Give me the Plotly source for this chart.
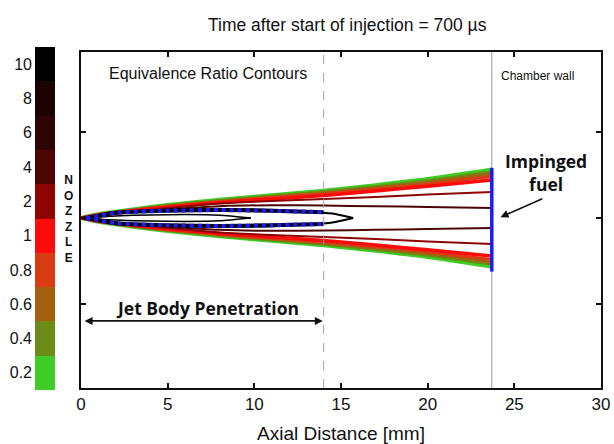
import plotly.graph_objects as go

# ---------------- data ----------------
cb_labels = ["0.2", "0.4", "0.6", "0.8", "1", "2", "4", "6", "8", "10"]
cb_colors = ["#3fcc26", "#6c8c18", "#a4620e", "#d93c12", "#ff0b0b",
             "#8e0404", "#4c0606", "#2e0404", "#1c0202", "#000000"]

x_st = [0, 1, 3, 5, 8, 11, 14, 17, 20, 23.7]
# half-widths [mm] of each equivalence-ratio contour along the spray
hw_02 = [0, 0.22, 0.50, 0.75, 1.05, 1.32, 1.58, 1.90, 2.25, 2.80]
hw_04 = [0, 0.21, 0.48, 0.72, 1.01, 1.27, 1.52, 1.82, 2.16, 2.68]
hw_06 = [0, 0.20, 0.46, 0.69, 0.97, 1.22, 1.45, 1.74, 2.06, 2.54]
hw_08 = [0, 0.19, 0.44, 0.66, 0.93, 1.16, 1.38, 1.65, 1.95, 2.40]
hw_1 = [0, 0.18, 0.42, 0.63, 0.89, 1.10, 1.30, 1.56, 1.84, 2.20]
hw_2 = [0, 0.16, 0.38, 0.58, 0.84, 0.98, 1.10, 1.22, 1.36, 1.50]
hw_4 = [0, 0.14, 0.34, 0.50, 0.68, 0.74, 0.72, 0.68, 0.64, 0.58]

x_tear = [0, 2, 5, 8, 11, 13, 14.5, 15.7]
hw_tear = [0, 0.30, 0.45, 0.50, 0.47, 0.38, 0.26, 0]
x_core = [0, 2, 4, 6, 8, 9.8]
hw_core = [0, 0.12, 0.18, 0.20, 0.16, 0]
x_liq = [0.3, 2, 5, 8, 11, 14]
hw_liq = [0, 0.30, 0.42, 0.46, 0.42, 0.34]

penetration = 14.0
wall_x = 23.7
wall_y = [-3.1, 2.9]

xticks = [0, 5, 10, 15, 20, 25, 30]

# ---------------- figure ----------------
fig = go.Figure()


def contour(xs, hw, color, width, dash="solid"):
    px = list(xs) + [None] + list(xs)
    py = list(hw) + [None] + [-h for h in hw]
    fig.add_trace(go.Scatter(x=px, y=py, mode="lines", line=dict(color=color, width=width, dash=dash,
                                                                 shape="spline", smoothing=0.6),
                             hoverinfo="skip", showlegend=False, xaxis="x", yaxis="y"))


levels = [(hw_02, 0, 4), (hw_04, 1, 3), (hw_06, 2, 3), (hw_08, 3, 3), (hw_1, 4, 3.5),
          (hw_2, 5, 2), (hw_4, 6, 2)]
for hw, ci, w in levels:
    contour(x_st, hw, cb_colors[ci], w)

contour(x_tear, hw_tear, "#000000", 2)
contour(x_core, hw_core, "#000000", 1.5)
contour(x_liq, hw_liq, "#000000", 4)
contour(x_liq, hw_liq, "#1a1aff", 4, dash="dot")

# penetration & chamber wall reference lines
fig.add_trace(go.Scatter(x=[penetration, penetration], y=[-9.83, 9.6], mode="lines",
                         line=dict(color="#9aa3b8", width=1, dash="dash"),
                         hoverinfo="skip", showlegend=False))
fig.add_trace(go.Scatter(x=[wall_x, wall_x], y=[-9.83, 9.6], mode="lines",
                         line=dict(color="#8e94a2", width=1),
                         hoverinfo="skip", showlegend=False))
fig.add_trace(go.Scatter(x=[wall_x, wall_x], y=wall_y, mode="lines",
                         line=dict(color="#1a1aff", width=3.5),
                         hoverinfo="skip", showlegend=False))

# colour bar as heatmap
fig.add_trace(go.Heatmap(
    z=[[i] for i in range(len(cb_labels))], y=cb_labels, x=[0],
    zmin=-0.5, zmax=len(cb_labels) - 0.5,
    colorscale=[[v, c] for i, c in enumerate(cb_colors)
                for v in (i / len(cb_colors), (i + 1) / len(cb_colors))],
    showscale=False, xaxis="x2", yaxis="y2", hoverinfo="skip"))

FONT = "Liberation Sans, Arial"
axis_font = dict(family=FONT, size=17, color="#111")

fig.update_layout(
    width=614, height=444,
    margin=dict(l=0, r=0, t=0, b=0),
    paper_bgcolor="white", plot_bgcolor="white",
    showlegend=False,
    xaxis=dict(domain=[81 / 614, 601 / 614], range=[0, 30], tickvals=xticks,
               ticks="inside", ticklen=5, tickcolor="#111", tickwidth=1.5,
               showline=True, linecolor="#111", linewidth=1.5, mirror="ticks",
               showgrid=False, zeroline=False, tickfont=axis_font, automargin=False,
               title=dict(text="Axial Distance [mm]", font=dict(family=FONT, size=19, color="#111"),
                          standoff=16)),
    yaxis=dict(domain=[(444 - 388) / 444, (444 - 52) / 444], range=[-9.83, 9.6],
               tickvals=[-5, 0, 5], showticklabels=False, automargin=False,
               ticks="inside", ticklen=5, tickcolor="#111", tickwidth=1.5,
               showline=True, linecolor="#111", linewidth=1.5, mirror="ticks",
               showgrid=False, zeroline=False),
    xaxis2=dict(domain=[35 / 614, 55 / 614], anchor="y2", visible=False, automargin=False),
    yaxis2=dict(domain=[(444 - 390) / 444, (444 - 47) / 444], anchor="x2", type="category",
                showline=False, ticks="", showgrid=False, automargin=False, ticklabelstandoff=2,
                tickfont=dict(family=FONT, size=16, color="#111")),
)

ann = []
ann.append(dict(text="Time after start of injection = 700 µs", xref="paper", yref="paper",
                x=347 / 614, y=(444 - 25) / 444, xanchor="center", yanchor="middle", showarrow=False,
                font=dict(family=FONT, size=17.5, color="#111")))
ann.append(dict(text="Equivalence Ratio Contours", xref="paper", yref="paper",
                x=107 / 614, y=(444 - 74) / 444, xanchor="left", yanchor="middle", showarrow=False,
                font=dict(family=FONT, size=16, color="#111")))
ann.append(dict(text="Chamber wall", xref="paper", yref="paper",
                x=499 / 614, y=(444 - 76) / 444, xanchor="left", yanchor="middle", showarrow=False,
                font=dict(family=FONT, size=12, color="#111")))
ann.append(dict(text="<b>N<br>O<br>Z<br>Z<br>L<br>E</b>", xref="paper", yref="paper",
                x=68 / 614, y=(444 - 219) / 444, xanchor="center", yanchor="middle",
                showarrow=False, align="center",
                font=dict(family=FONT, size=12, color="#111")))
ann.append(dict(text="<b>Impinged<br>fuel</b>", xref="paper", yref="paper",
                x=546 / 614, y=(444 - 172) / 444, xanchor="center", yanchor="middle",
                showarrow=False, align="center",
                font=dict(family="Open Sans, Lato", size=17.5, color="#111")))
ann.append(dict(text="", x=wall_x + 0.5, y=0.05, ax=wall_x + 3.0, ay=1.15,
                xref="x", yref="y", axref="x", ayref="y", showarrow=True,
                arrowhead=2, arrowsize=1, arrowwidth=1.6, arrowcolor="#111"))
ann.append(dict(text="<b>Jet Body Penetration</b>", xref="x", yref="y",
                x=penetration / 2 + 0.3, y=-5.2, xanchor="center", yanchor="middle", showarrow=False,
                font=dict(family="Open Sans, Lato", size=17.5, color="#111")))
ann.append(dict(text="", x=penetration - 0.05, y=-5.95, ax=0.12, ay=-5.95,
                xref="x", yref="y", axref="x", ayref="y", showarrow=True,
                arrowhead=2, arrowside="end+start", arrowsize=1, arrowwidth=1.6, arrowcolor="#111"))
fig.update_layout(annotations=ann)

fig.write_html("out.html")
